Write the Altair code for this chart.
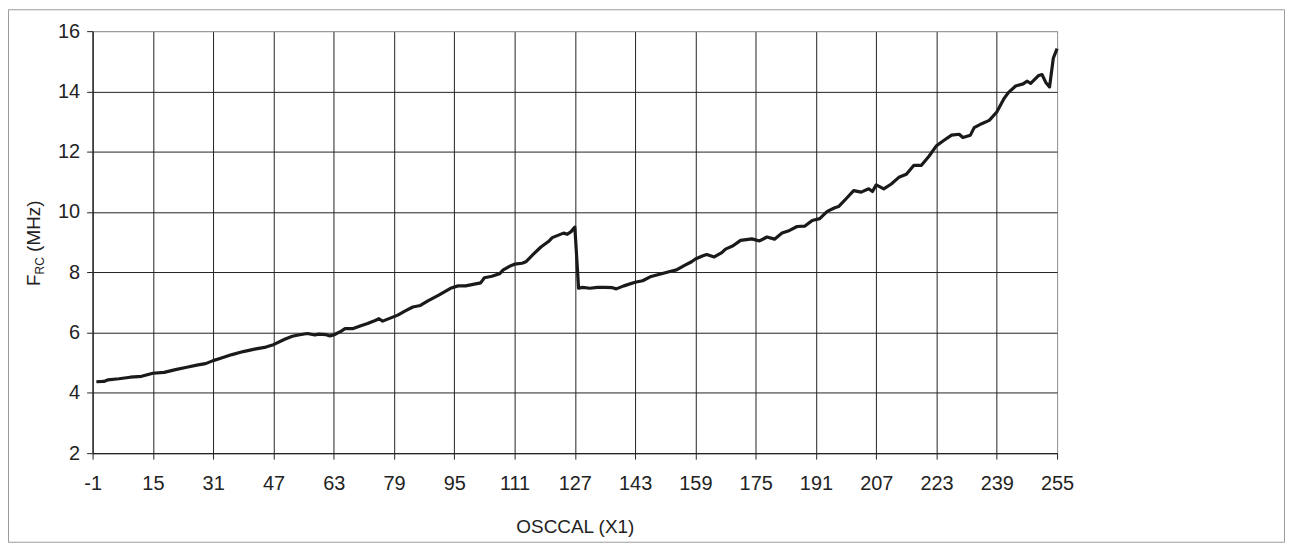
import altair as alt
import pandas as pd

osccal = [0, 2, 3, 6, 9, 12, 15, 18, 21, 24, 27, 29, 31, 33, 36, 39, 42, 45, 47,
          50, 52, 54, 56, 58, 59, 61, 62, 63, 65, 66, 68, 70, 72, 74, 75, 76, 78,
          80, 82, 84, 86, 88, 91, 94, 96, 98, 100, 102, 103, 105, 107, 108, 110,
          111, 113, 114, 116, 118, 120, 121, 122, 124, 125, 126, 127,
          128, 129, 131, 133, 135, 137, 138, 140, 143, 145, 147, 149, 152, 154,
          156, 158, 159, 161, 162, 164, 166, 167, 169, 171, 174, 176, 178, 180,
          182, 184, 186, 188, 190, 192, 194, 196, 197, 199, 201, 203, 205, 206,
          207, 209, 211, 213, 215, 217, 219, 221, 223, 225, 227, 229, 230, 232,
          233, 235, 237, 239, 241, 242, 244, 246, 247, 248, 250, 251, 252, 253,
          254, 255]
freq = [4.37, 4.38, 4.43, 4.47, 4.52, 4.55, 4.65, 4.68, 4.77, 4.85, 4.93, 4.97, 5.07,
        5.15, 5.27, 5.37, 5.45, 5.52, 5.60,
        5.78, 5.88, 5.93, 5.97, 5.92, 5.95, 5.93, 5.89, 5.92, 6.05, 6.13, 6.13, 6.22,
        6.30, 6.40, 6.46, 6.38, 6.48,
        6.58, 6.72, 6.85, 6.90, 7.05, 7.25, 7.47, 7.55, 7.55, 7.60, 7.65, 7.82, 7.87,
        7.95, 8.08, 8.22,
        8.27, 8.30, 8.35, 8.60, 8.84, 9.02, 9.15, 9.20, 9.30, 9.26, 9.35, 9.50,
        7.47, 7.50, 7.47, 7.50, 7.50, 7.49, 7.45, 7.55, 7.67, 7.72, 7.85, 7.92, 8.02,
        8.08, 8.22, 8.35, 8.44, 8.55, 8.59, 8.51, 8.65, 8.77, 8.88, 9.06, 9.11, 9.04,
        9.17, 9.10,
        9.30, 9.39, 9.52, 9.53, 9.72, 9.78, 10.02, 10.14, 10.18, 10.44, 10.71, 10.66,
        10.77, 10.68,
        10.90, 10.77, 10.93, 11.15, 11.25, 11.55, 11.55, 11.85, 12.20, 12.38, 12.55,
        12.58, 12.47, 12.55,
        12.80, 12.93, 13.04, 13.32, 13.78, 13.95, 14.18, 14.25, 14.34, 14.27, 14.52,
        14.56, 14.30, 14.15,
        15.10, 15.42]

x_ticks = list(range(-1, 256, 16))
y_ticks = list(range(2, 17, 2))

W, H = 969, 424          # plot area
PL, PT = 85, 22          # plot origin inside the canvas
TW, TH = 1283, 536       # whole canvas
DARK = "#222222"
FRAME = "#9a9a9a"
FONT = "Liberation Sans"

df = pd.DataFrame({"OSCCAL": osccal, "FRC": freq})

line = alt.Chart(df).mark_line(color="#1a1a1a", strokeWidth=3.2, strokeJoin="round").encode(
    x=alt.X("OSCCAL:Q",
            scale=alt.Scale(domain=[-1, 255], nice=False, zero=False),
            axis=alt.Axis(values=x_ticks, title="OSCCAL (X1)", labelExpr="datum.value + ''",
                          labelPadding=15, labelFlush=False, labelOverlap=False,
                          titleY=80, titleBaseline="alphabetic",
                          gridColor={"condition": {"test": "datum.value == 255", "value": FRAME},
                                     "value": DARK})),
    y=alt.Y("FRC:Q",
            scale=alt.Scale(domain=[2, 16], nice=False, zero=False),
            axis=alt.Axis(values=y_ticks, title=None, labelPadding=7, labelFlush=False,
                          labelOverlap=False,
                          gridColor={"condition": {"test": "datum.value == 16", "value": FRAME},
                                     "value": DARK})),
)

frame = alt.Chart(pd.DataFrame({"k": [0]})).mark_rect(filled=False, color=FRAME, strokeWidth=1).encode(
    x=alt.value(-PL + 0.5), x2=alt.value(TW - PL - 0.5),
    y=alt.value(-PT + 0.5), y2=alt.value(TH - PT - 0.5),
)

def ytitle(text, size, xpos, ypos):
    return alt.Chart(pd.DataFrame({"t": [text]})).mark_text(
        angle=270, align="left", baseline="alphabetic", font=FONT, fontSize=size, color=DARK
    ).encode(text="t:N", x=alt.value(xpos), y=alt.value(ypos))

t_f = ytitle("F", 19, -53, 256)
t_rc = ytitle("RC", 12, -49, 244.4)
t_mhz = ytitle("(MHz)", 19, -53, 221.8)

chart = alt.layer(frame, line, t_f, t_rc, t_mhz).properties(
    width=W, height=H,
    autosize=alt.AutoSizeParams(type="none"),
    padding={"left": PL, "top": PT, "right": TW - PL - W, "bottom": TH - PT - H},
).configure_view(stroke=FRAME, strokeWidth=1).configure_axis(
    domainColor=DARK, tickColor=DARK, gridWidth=1, domainWidth=1, tickWidth=1,
    tickSize=6, labelFont=FONT, labelFontSize=20, labelColor=DARK,
    titleFont=FONT, titleFontSize=19, titleFontWeight="normal", titleColor=DARK,
)

chart.save("out.html", embed_options={"renderer": "svg", "actions": False})
